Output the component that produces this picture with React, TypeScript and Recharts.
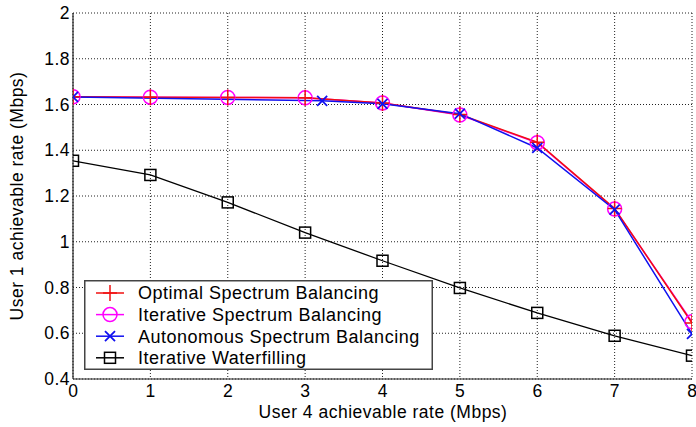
import React from 'react';
import { LineChart, Line, XAxis, YAxis, CartesianGrid, Legend } from 'recharts';

const xTicks = [0, 1, 2, 3, 4, 5, 6, 7, 8];
const yTicks = [0.4, 0.6, 0.8, 1, 1.2, 1.4, 1.6, 1.8, 2];

const osbX = [0, 1, 2, 3, 4, 5, 6, 7, 8];
const osbY = [1.634, 1.632, 1.631, 1.629, 1.607, 1.556, 1.435, 1.145, 0.645];
const isbX = [0, 1, 2, 3, 4, 5, 6, 7, 8];
const isbY = [1.634, 1.632, 1.631, 1.629, 1.607, 1.554, 1.433, 1.143, 0.65];
const asbX = [0, 3.22, 4, 5, 6, 7, 8];
const asbY = [1.633, 1.616, 1.603, 1.56, 1.41, 1.14, 0.597];
const iwX = [0, 1, 2, 3, 4, 5, 6, 7, 8];
const iwY = [1.354, 1.292, 1.172, 1.04, 0.917, 0.798, 0.689, 0.589, 0.502];

const seriesNames = [
  'Optimal Spectrum Balancing',
  'Iterative Spectrum Balancing',
  'Autonomous Spectrum Balancing',
  'Iterative Waterfilling',
];
const xTitle = 'User 4 achievable rate (Mbps)';
const yTitle = 'User 1 achievable rate (Mbps)';

const RED = '#f01010';
const MAGENTA = '#ff00ff';
const BLUE = '#1010f0';
const BLACK = '#000000';
const FONT = '"Liberation Sans", Arial, sans-serif';
const FS = 17.5;
const LS = 0.5;

const zip = (xs: number[], ys: number[]) => xs.map((x, i) => ({ x, y: ys[i] }));
const osbData = zip(osbX, osbY);
const isbData = zip(isbX, isbY);
const asbData = zip(asbX, asbY);
const iwData = zip(iwX, iwY);

type M = 'plus' | 'circle' | 'cross' | 'square';

function marker(kind: M, cx: number, cy: number, color: string, key?: any) {
  if (cx == null || cy == null || isNaN(cx) || isNaN(cy)) return <g key={key} />;
  if (kind === 'plus')
    return <path key={key} d={`M${cx - 7},${cy}H${cx + 7}M${cx},${cy - 8}V${cy + 8}`} stroke={color} strokeWidth={1.5} fill="none" />;
  if (kind === 'circle')
    return <circle key={key} cx={cx} cy={cy} r={7} stroke={color} strokeWidth={1.5} fill="none" />;
  if (kind === 'cross')
    return <path key={key} d={`M${cx - 5},${cy - 5}L${cx + 5},${cy + 5}M${cx - 5},${cy + 5}L${cx + 5},${cy - 5}`} stroke={color} strokeWidth={1.8} fill="none" />;
  return <rect key={key} x={cx - 5.5} y={cy - 5.5} width={11} height={11} stroke={color} strokeWidth={1.5} fill="none" />;
}

const mkDot = (kind: M, color: string) => (p: any) => marker(kind, p.cx, p.cy, color, p.key);

const legendItems: { kind: M; color: string }[] = [
  { kind: 'plus', color: RED },
  { kind: 'circle', color: MAGENTA },
  { kind: 'cross', color: BLUE },
  { kind: 'square', color: BLACK },
];

const LegendBox = () => (
  <svg width={349} height={90} style={{ display: 'block' }}>
    <rect x={0.75} y={0.75} width={347.5} height={88.5} fill="#fff" stroke="#444" strokeWidth={1.5} />
    {legendItems.map((it, i) => {
      const cy = 13 + i * 21.6;
      return (
        <g key={i}>
          <line x1={12} x2={40} y1={cy} y2={cy} stroke={it.color} strokeWidth={1.5} />
          {marker(it.kind, 26, cy, it.color)}
          <text x={54} y={cy} dy="0.355em" fontFamily={FONT} fontSize={18} letterSpacing={0.5} fill="#000">
            {seriesNames[i]}
          </text>
        </g>
      );
    })}
  </svg>
);

const XTick = (p: any) => (
  <text x={p.x} y={397} textAnchor="middle" fontFamily={FONT} fontSize={FS} fill="#000">
    {p.payload.value}
  </text>
);

const YTick = (p: any) => (
  <text x={70} y={p.y} dy="0.355em" textAnchor="end" fontFamily={FONT} fontSize={FS} letterSpacing={LS} fill="#000">
    {p.payload.value}
  </text>
);

const XTitle = () => (
  <text x={383} y={418} textAnchor="middle" fontFamily={FONT} fontSize={FS} letterSpacing={LS} fill="#000">
    {xTitle}
  </text>
);

const YTitle = () => (
  <text transform="translate(23,196) rotate(-90)" textAnchor="middle" fontFamily={FONT} fontSize={FS} letterSpacing={LS} fill="#000">
    {yTitle}
  </text>
);

export default function App() {
  return (
    <div style={{ position: 'absolute', left: 0, top: 0, width: 696, height: 427, background: '#fff' }}>
      <LineChart width={696} height={427} margin={{ top: 13, right: 4, left: 0, bottom: 0 }}>
        <CartesianGrid stroke="#222" strokeDasharray="1 2" strokeWidth={1} />
        <XAxis
          type="number"
          dataKey="x"
          domain={[0, 8]}
          ticks={xTicks}
          allowDataOverflow
          height={48}
          tickLine={false}
          axisLine={{ stroke: '#222', strokeWidth: 1.2 }}
          tick={<XTick />}
          label={{ content: XTitle }}
        />
        <YAxis
          type="number"
          dataKey="y"
          domain={[0.4, 2]}
          ticks={yTicks}
          allowDataOverflow
          width={73}
          tickLine={false}
          axisLine={{ stroke: '#222', strokeWidth: 1.2 }}
          tick={<YTick />}
          label={{ content: YTitle }}
        />
        <Legend
          layout="horizontal"
          verticalAlign="middle"
          align="center"
          wrapperStyle={{ left: 84, top: 280, width: 349, height: 90 }}
          content={() => <LegendBox />}
        />
        <Line data={isbData} dataKey="y" name={seriesNames[1]} stroke={MAGENTA} strokeWidth={1.5} dot={mkDot('circle', MAGENTA)} isAnimationActive={false} />
        <Line data={osbData} dataKey="y" name={seriesNames[0]} stroke={RED} strokeWidth={1.5} dot={mkDot('plus', RED)} isAnimationActive={false} />
        <Line data={asbData} dataKey="y" name={seriesNames[2]} stroke={BLUE} strokeWidth={1.5} dot={mkDot('cross', BLUE)} isAnimationActive={false} />
        <Line data={iwData} dataKey="y" name={seriesNames[3]} stroke={BLACK} strokeWidth={1.3} dot={mkDot('square', BLACK)} isAnimationActive={false} />
      </LineChart>
    </div>
  );
}
